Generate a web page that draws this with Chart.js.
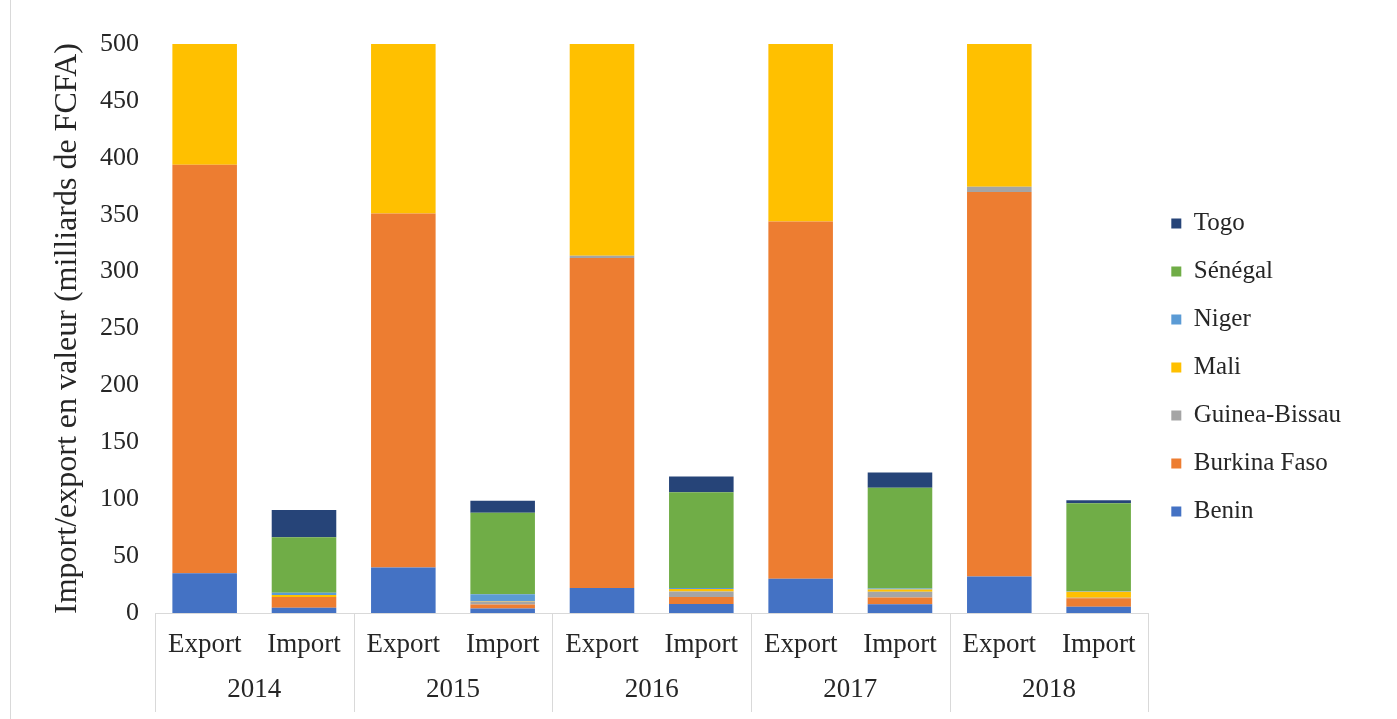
<!DOCTYPE html>
<html>
<head>
<meta charset="utf-8">
<script src="https://cdn.jsdelivr.net/npm/chart.js@4.4.0/dist/chart.umd.min.js"></script>
<style>
  html, body { margin: 0; padding: 0; background: #ffffff; }
  #wrap { position: relative; width: 1397px; height: 719px; overflow: hidden; }
  #frame { position: absolute; left: 10px; top: 0; width: 1px; height: 719px; background: #d9d9d9; }
  #chart { position: absolute; left: 0; top: 0; }
</style>
</head>
<body>
<div id="wrap">
  <div id="frame"></div>
  <canvas id="chart" width="1397" height="719"></canvas>
</div>
<script>
// Years and flow types (two-level category axis)
const years = ['2014', '2015', '2016', '2017', '2018'];
const flows = ['Export', 'Import'];

// Values in milliards de FCFA, order: 2014 Export, 2014 Import, 2015 Export, ...
const benin        = [35, 4.7, 40, 4, 22, 8, 30, 7.6, 32, 5.5];
const burkinaFaso  = [359, 9.4, 311, 3.5, 290, 6, 314, 6, 338, 7.4];
const guineaBissau = [0, 0, 0, 2.5, 2, 5, 0, 5, 4.6, 0.5];
const mali         = [106, 1.8, 149, 0.5, 186, 2, 156, 2, 125.4, 5.3];
const niger        = [0, 2, 0, 6, 0, 1, 0, 1, 0, 0.5];
const senegal      = [0, 48.7, 0, 71.7, 0, 84, 0, 88.4, 0, 77.3];
const togo         = [0, 24, 0, 10.5, 0, 14, 0, 13.5, 0, 2.5];

// Y axis ticks
const yMin = 0, yMax = 500, yStep = 50;

const categories = [];
years.forEach(() => flows.forEach(f => categories.push(f)));

const serif = '"Liberation Serif", "Times New Roman", serif';
const textColor = '#262626';
const lineColor = '#d9d9d9';

const series = [
  { label: 'Benin',         data: benin,        color: '#4472C4' },
  { label: 'Burkina Faso',  data: burkinaFaso,  color: '#ED7D31' },
  { label: 'Guinea-Bissau', data: guineaBissau, color: '#A5A5A5' },
  { label: 'Mali',          data: mali,         color: '#FFC000' },
  { label: 'Niger',         data: niger,        color: '#5B9BD5' },
  { label: 'Sénégal',       data: senegal,      color: '#70AD47' },
  { label: 'Togo',          data: togo,         color: '#264478' }
];

// Vertical separators between year groups, spanning both label rows
const yearSeparators = {
  id: 'yearSeparators',
  afterDraw(chart) {
    const x = chart.scales.x;
    const x2 = chart.scales.x2;
    const n = x.ticks.length;
    const half = (x.getPixelForTick(1) - x.getPixelForTick(0)) / 2;
    const ctx = chart.ctx;
    ctx.save();
    ctx.strokeStyle = lineColor;
    ctx.lineWidth = 1;
    ctx.beginPath();
    for (let i = 0; i <= n; i += flows.length) {
      const px = i < n ? x.getPixelForTick(i) - half : x.getPixelForTick(n - 1) + half;
      const p = Math.round(px) + 0.5;
      ctx.moveTo(p, x.top);
      ctx.lineTo(p, x2.bottom + 9);
    }
    ctx.stroke();
    ctx.restore();
  }
};

new Chart(document.getElementById('chart'), {
  type: 'bar',
  data: {
    labels: categories,
    datasets: series.map(s => ({
      label: s.label,
      data: s.data,
      backgroundColor: s.color,
      borderWidth: 0,
      categoryPercentage: 1,
      barPercentage: 0.65
    }))
  },
  plugins: [yearSeparators],
  options: {
    responsive: false,
    animation: false,
    devicePixelRatio: 1,
    layout: { padding: { left: 52, right: 46, top: 32, bottom: 16 } },
    plugins: {
      tooltip: { enabled: false },
      // blank spacer above the plot area only
      title: {
        display: true,
        text: '',
        fullSize: false,
        padding: 0,
        font: { size: 10, lineHeight: 1.2 }
      },
      legend: {
        position: 'right',
        reverse: true,
        labels: {
          boxWidth: 10,
          boxHeight: 10,
          padding: 23,
          color: textColor,
          font: { family: serif, size: 25 }
        }
      }
    },
    scales: {
      x: {
        stacked: true,
        offset: true,
        grid: { display: false, drawTicks: false },
        border: { display: true, color: lineColor, width: 1 },
        ticks: {
          padding: 18,
          maxRotation: 0,
          autoSkip: false,
          color: textColor,
          font: { family: serif, size: 27, lineHeight: 1 }
        }
      },
      x2: {
        type: 'category',
        labels: years,
        position: 'bottom',
        offset: true,
        grid: { display: false, drawTicks: false },
        border: { display: false },
        ticks: {
          padding: 0,
          maxRotation: 0,
          autoSkip: false,
          color: textColor,
          font: { family: serif, size: 27, lineHeight: 1 }
        }
      },
      y: {
        stacked: true,
        min: yMin,
        max: yMax,
        grid: { display: false, drawTicks: false },
        border: { display: false },
        ticks: {
          stepSize: yStep,
          padding: 16,
          color: textColor,
          font: { family: serif, size: 26 }
        },
        title: {
          display: true,
          text: 'Import/export en valeur (milliards de FCFA)',
          color: textColor,
          font: { family: serif, size: 32, lineHeight: 1 },
          padding: { top: 0, bottom: 0 }
        }
      }
    }
  }
});
</script>
</body>
</html>
